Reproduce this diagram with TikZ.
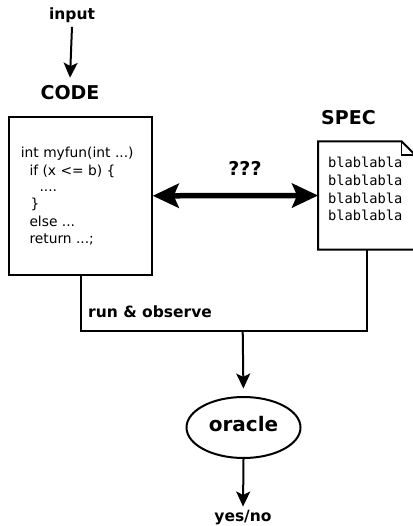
\documentclass[tikz,border=0pt]{standalone}
\usepackage{fontspec}
\setmainfont{DejaVu Sans}
\newfontfamily\monof{DejaVu Sans Mono}
\usetikzlibrary{arrows.meta,shapes.geometric}
\tikzset{
  lbl/.style={font=\fontsize{15.5pt}{18pt}\selectfont\bfseries, inner sep=0pt},
  ttl/.style={font=\fontsize{19pt}{22pt}\selectfont\bfseries, inner sep=0pt},
  codeln/.style={font=\fontsize{13.8pt}{16pt}\selectfont, anchor=base west, inner sep=0pt},
  specln/.style={font=\monof\fontsize{13.7pt}{16pt}\selectfont, anchor=base west, inner sep=0pt},
  boxshape/.style={draw, line width=2pt, inner sep=0pt},
  conn/.style={line width=2pt},
  arr/.style={conn, -{Stealth[length=15pt,width=14pt,inset=3.5pt]}},
  bigarr/.style={line width=5.5pt, {Stealth[length=26pt,width=24pt,inset=5pt]}-{Stealth[length=26pt,width=24pt,inset=5pt]}}
}
\begin{document}
\begin{tikzpicture}[x=1pt,y=-1pt]
\useasboundingbox (0,0) rectangle (412,526);
% titles
\node[lbl, anchor=base] (input) at (72,20) {input};
\node[ttl, anchor=base] (codet) at (70,100) {CODE};
\node[ttl, anchor=base] (spect) at (348.5,124.5) {SPEC};
% code box
\node[boxshape, minimum width=142.4pt, minimum height=157.5pt] (code) at (80.5,195.8) {};
\node[codeln] (c1) at (20.7,158.0) {int myfun(int ...)};
\node[codeln] (c2) at (29.3,175.2) {if (x <= b) \{};
\node[codeln] (c3) at (39.3,192.0) {....};
\node[codeln] (c4) at (30.3,208.8) {\}};
\node[codeln] (c5) at (29.3,226.5) {else ...};
\node[codeln] (c6) at (29.3,243.5) {return ...;};
% spec document
\node[inner sep=0pt, minimum width=96.7pt, minimum height=107.6pt] (spec) at (366.65,195.5) {};
\draw[line width=2pt, line join=miter]
  (spec.south west) -- (spec.north west) -- ([xshift=-13.5pt]spec.north east)
  -- ([yshift=-13.5pt]spec.north east) -- (spec.south east) -- cycle;
\draw[line width=1.2pt] ([xshift=-13.5pt]spec.north east) |- ([yshift=-13.5pt]spec.north east);
\node[specln] (s1) at (328.0,167.3) {blablabla};
\node[specln] (s2) at (328.0,185.2) {blablabla};
\node[specln] (s3) at (328.0,203.1) {blablabla};
\node[specln] (s4) at (328.0,221.0) {blablabla};
% double arrow
\draw[bigarr] (code.east) -- (spec.west);
\node[ttl, anchor=base] (q) at (245,176) {???};
% run and observe
\coordinate (jn) at (242.7,331);
\draw[conn] (code.south) |- (jn) -| (spec.south);
\node[lbl, anchor=base west] (run) at (88,317) {run \& observe};
% oracle
\node[draw, ellipse, line width=2pt, inner sep=0pt, minimum width=114pt, minimum height=61pt,
      font=\fontsize{20pt}{24pt}\selectfont\bfseries, text height=15.2pt, text depth=7.2pt] (oracle) at (243.5,427.5) {oracle};
\node[lbl, anchor=base] (yesno) at (243,521) {yes/no};
% arrows
\draw[arr] ([yshift=-3.4pt]input.south) -- ([yshift=8pt]codet.north);
\draw[arr, shorten >=7.5pt] (jn) -- (oracle.north);
\draw[arr, shorten >=3pt] (oracle.south) -- (yesno.north);
\end{tikzpicture}
\end{document}
